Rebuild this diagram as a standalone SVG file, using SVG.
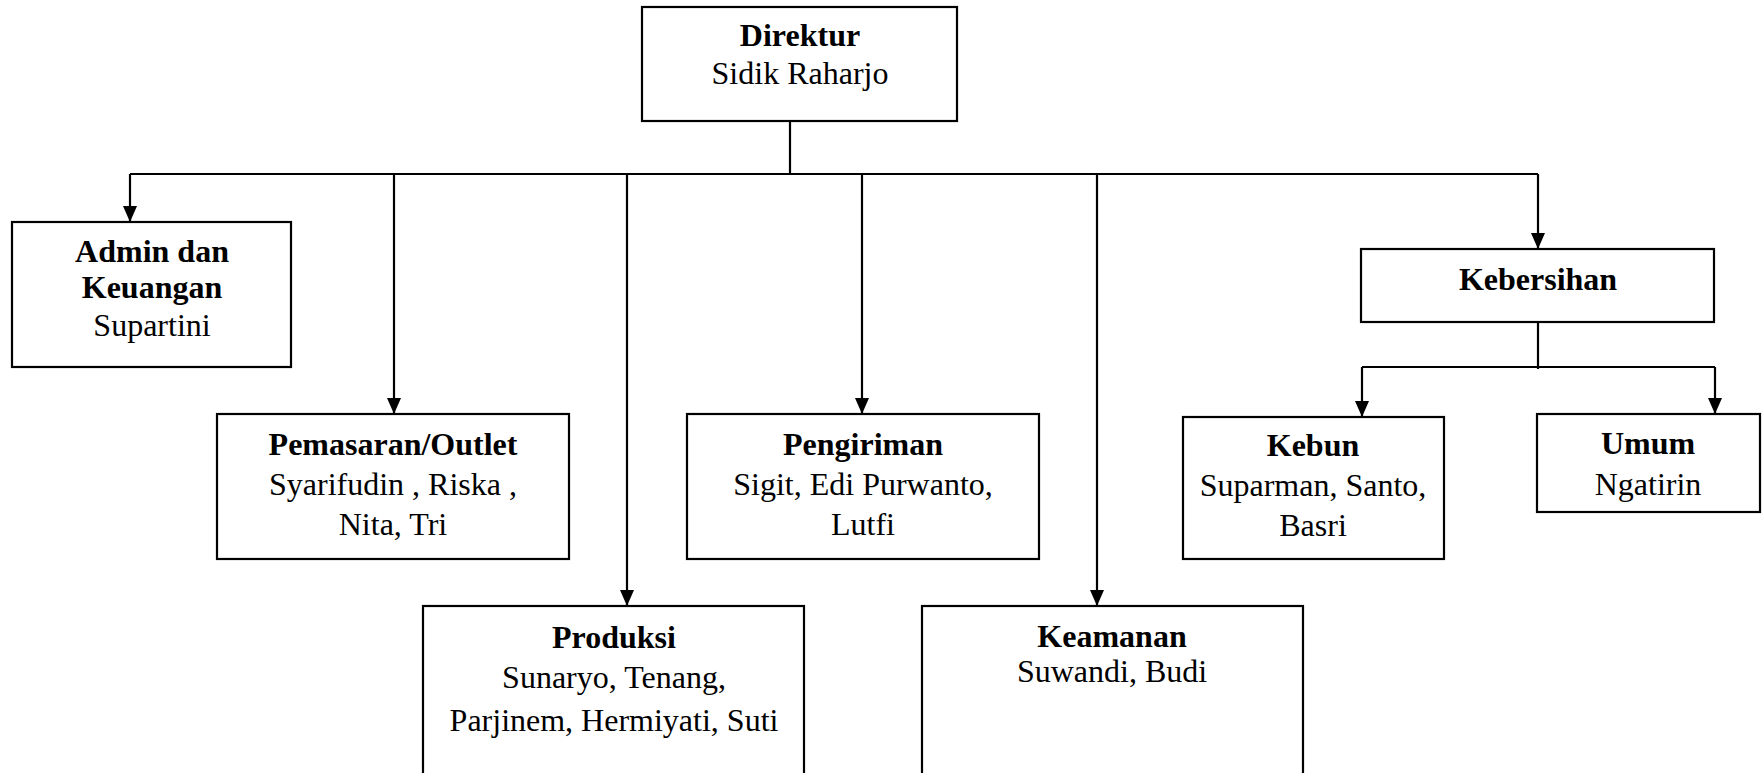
<svg xmlns="http://www.w3.org/2000/svg" width="1763" height="773" viewBox="0 0 1763 773">
<style>
.box{fill:#fff;stroke:#000;stroke-width:2.2}
.t{font-family:'Liberation Serif','Times New Roman',serif;font-size:32px;fill:#000;text-anchor:middle}
.b{font-weight:bold}
.c{fill:none;stroke:#000;stroke-width:2.2}
.a{marker-end:url(#ah)}
</style>
<defs>
<marker id="ah" markerWidth="16" markerHeight="14" refX="16" refY="7" orient="auto" markerUnits="userSpaceOnUse" viewBox="0 0 16 14"><path d="M0,0 L16,7 L0,14 z" fill="#000"/></marker>
</defs>
<rect width="1763" height="773" fill="#fff"/>
<g id="connectors">
<path class="c" d="M790,121 V174 M130,174 H1538"/>
<path class="c a" d="M130,174 V222"/>
<path class="c a" d="M394,174 V414"/>
<path class="c a" d="M627,174 V606"/>
<path class="c a" d="M862,174 V414"/>
<path class="c a" d="M1097,174 V606"/>
<path class="c a" d="M1538,174 V249"/>
<path class="c" d="M1538,322 V369 M1362,367 H1715"/>
<path class="c a" d="M1362,367 V417"/>
<path class="c a" d="M1715,367 V414"/>
</g>
<g id="direktur">
<rect class="box" x="642" y="7" width="315" height="114"/>
<text class="t b" x="800" y="46">Direktur</text>
<text class="t" x="800" y="84">Sidik Raharjo</text>
</g>
<g id="admin">
<rect class="box" x="12" y="222" width="279" height="145"/>
<text class="t b" x="152" y="262">Admin dan</text>
<text class="t b" x="152" y="298">Keuangan</text>
<text class="t" x="152" y="336">Supartini</text>
</g>
<g id="pemasaran">
<rect class="box" x="217" y="414" width="352" height="145"/>
<text class="t b" x="393" y="455">Pemasaran/Outlet</text>
<text class="t" x="393" y="495">Syarifudin , Riska ,</text>
<text class="t" x="393" y="535">Nita, Tri</text>
</g>
<g id="pengiriman">
<rect class="box" x="687" y="414" width="352" height="145"/>
<text class="t b" x="863" y="455">Pengiriman</text>
<text class="t" x="863" y="495">Sigit, Edi Purwanto,</text>
<text class="t" x="863" y="535">Lutfi</text>
</g>
<g id="produksi">
<rect class="box" x="423" y="606" width="381" height="190"/>
<text class="t b" x="614" y="648">Produksi</text>
<text class="t" x="614" y="688">Sunaryo, Tenang,</text>
<text class="t" x="614" y="731">Parjinem, Hermiyati, Suti</text>
</g>
<g id="keamanan">
<rect class="box" x="922" y="606" width="381" height="190"/>
<text class="t b" x="1112" y="647">Keamanan</text>
<text class="t" x="1112" y="682">Suwandi, Budi</text>
</g>
<g id="kebersihan">
<rect class="box" x="1361" y="249" width="353" height="73"/>
<text class="t b" x="1538" y="290">Kebersihan</text>
</g>
<g id="kebun">
<rect class="box" x="1183" y="417" width="261" height="142"/>
<text class="t b" x="1313" y="456">Kebun</text>
<text class="t" x="1313" y="496">Suparman, Santo,</text>
<text class="t" x="1313" y="536">Basri</text>
</g>
<g id="umum">
<rect class="box" x="1537" y="414" width="223" height="98"/>
<text class="t b" x="1648" y="454">Umum</text>
<text class="t" x="1648" y="495">Ngatirin</text>
</g>
</svg>
